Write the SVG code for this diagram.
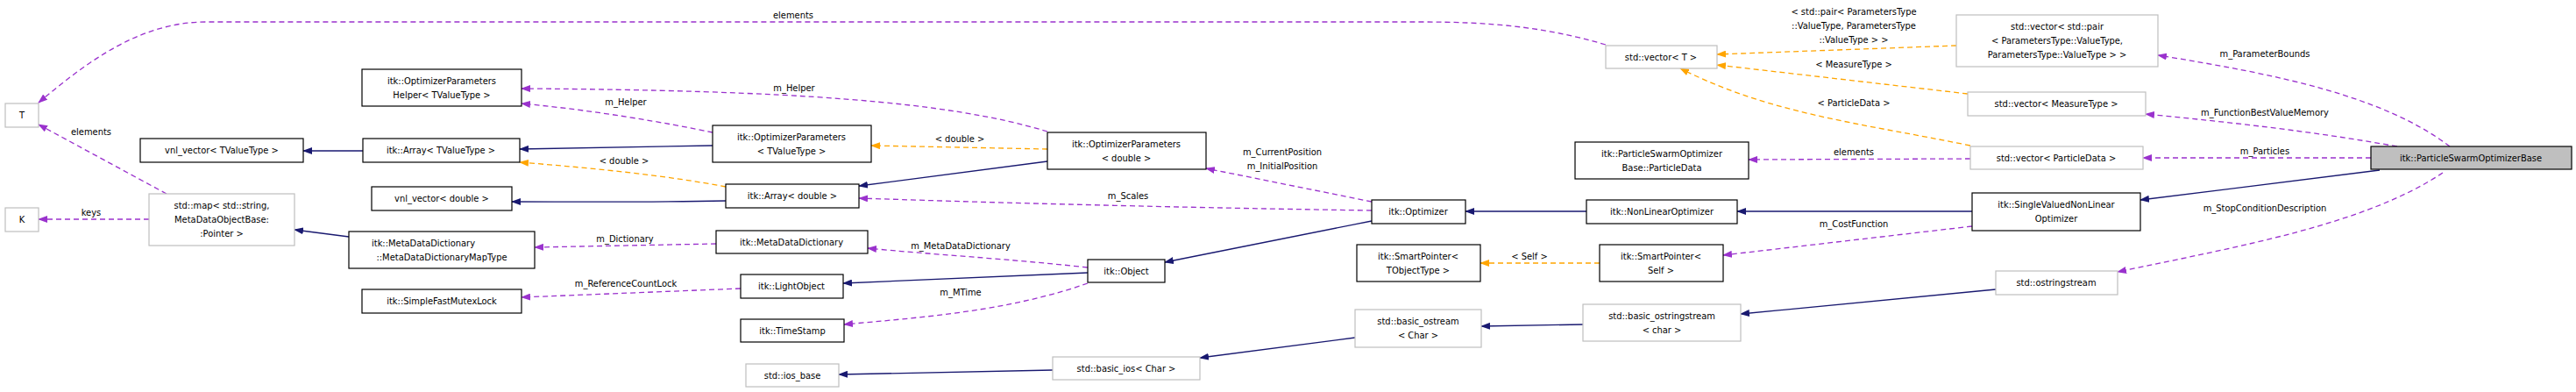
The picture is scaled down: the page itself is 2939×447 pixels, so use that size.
<svg xmlns="http://www.w3.org/2000/svg" width="2939" height="447" viewBox="0 0 2939 447">
<style>
text{font-family:"DejaVu Sans Condensed","DejaVu Sans",sans-serif;font-size:11px;fill:#000;text-anchor:middle}
.b{fill:#fff;stroke:#000;stroke-width:1.2}
.g{fill:#fff;stroke:#bfbfbf;stroke-width:1.2}
.m{fill:#bfbfbf;stroke:#000;stroke-width:1.2}
.inh{fill:none;stroke:#191970;stroke-width:1.3;marker-end:url(#an)}
.tpl{fill:none;stroke:#ffa500;stroke-width:1.3;stroke-dasharray:6,4;marker-end:url(#ao)}
.use{fill:none;stroke:#9a32cd;stroke-width:1.3;stroke-dasharray:6,4;marker-end:url(#ap)}
</style>
<defs>
<marker id="an" markerWidth="11" markerHeight="8" refX="10" refY="4" orient="auto" markerUnits="userSpaceOnUse"><path d="M0,0L11,4L0,8z" fill="#191970"/></marker>
<marker id="ao" markerWidth="11" markerHeight="8" refX="10" refY="4" orient="auto" markerUnits="userSpaceOnUse"><path d="M0,0L11,4L0,8z" fill="#ffa500"/></marker>
<marker id="ap" markerWidth="11" markerHeight="8" refX="10" refY="4" orient="auto" markerUnits="userSpaceOnUse"><path d="M0,0L11,4L0,8z" fill="#9a32cd"/></marker>
</defs>
<rect width="2939" height="447" fill="#fff"/>
<g id="connectors">
<path class="inh" d="M414,172L346,172"/>
<path class="inh" d="M813,166C720,167 650,169 593,170"/>
<path class="inh" d="M828,229C720,231 650,230 584,230"/>
<path class="inh" d="M1195,184L980,212"/>
<path class="inh" d="M398,270L336,262"/>
<path class="inh" d="M1241,311L962,323"/>
<path class="inh" d="M1565,252L1329,299"/>
<path class="inh" d="M1810,241L1672,241"/>
<path class="inh" d="M2250,241L1982,241"/>
<path class="inh" d="M2715,194L2442,228"/>
<path class="inh" d="M1201,422L957,427"/>
<path class="inh" d="M1546,385L1369,408"/>
<path class="inh" d="M1806,370L1690,372"/>
<path class="inh" d="M2277,330L1986,358"/>
<path class="tpl" d="M1195,170L994,166"/>
<path class="tpl" d="M828,213C760,200 680,192 593,185"/>
<path class="tpl" d="M1825,300L1689,300"/>
<path class="tpl" d="M2232,52L1959,62"/>
<path class="tpl" d="M2245,107L1959,74"/>
<path class="tpl" d="M2248,166C2120,140 2020,130 1917,78"/>
<path class="use" d="M190,221L44,142"/>
<path class="use" d="M170,250L44,250"/>
<path class="use" d="M1832,51C1760,30 1700,25 1620,25L235,25C160,25 100,70 44,117"/>
<path class="use" d="M813,151C760,140 680,126 595,118"/>
<path class="use" d="M1195,150C1080,115 900,103 595,101"/>
<path class="use" d="M1565,230L1376,192"/>
<path class="use" d="M1565,240C1300,236 1100,230 980,226"/>
<path class="use" d="M1241,305C1150,295 1060,290 990,283"/>
<path class="use" d="M817,278L610,282"/>
<path class="use" d="M845,329L595,339"/>
<path class="use" d="M1241,323C1150,355 1050,362 963,370"/>
<path class="use" d="M2250,258L1966,291"/>
<path class="use" d="M2248,181L1995,182"/>
<path class="use" d="M2795,167C2720,110 2600,85 2462,63"/>
<path class="use" d="M2735,167C2640,150 2550,140 2448,130"/>
<path class="use" d="M2705,180L2445,180"/>
<path class="use" d="M2787,197C2700,255 2560,280 2416,310"/>
<text x="104" y="154">elements</text>
<text x="104" y="246">keys</text>
<text x="905" y="21">elements</text>
<text x="906" y="104">m_Helper</text>
<text x="714" y="120">m_Helper</text>
<text x="1095" y="162">&lt; double &gt;</text>
<text x="712" y="187">&lt; double &gt;</text>
<text x="1287" y="227">m_Scales</text>
<text x="1096" y="284">m_MetaDataDictionary</text>
<text x="713" y="276">m_Dictionary</text>
<text x="714" y="327">m_ReferenceCountLock</text>
<text x="1096" y="337">m_MTime</text>
<text x="1463" y="177">m_CurrentPosition</text>
<text x="1463" y="193">m_InitialPosition</text>
<text x="1745" y="296">&lt; Self &gt;</text>
<text x="2115" y="259">m_CostFunction</text>
<text x="2115" y="177">elements</text>
<text x="2115" y="17">&lt; std::pair&lt; ParametersType</text>
<text x="2115" y="33">::ValueType, ParametersType</text>
<text x="2115" y="49">::ValueType &gt; &gt;</text>
<text x="2115" y="77">&lt; MeasureType &gt;</text>
<text x="2115" y="121">&lt; ParticleData &gt;</text>
<text x="2584" y="65">m_ParameterBounds</text>
<text x="2584" y="132">m_FunctionBestValueMemory</text>
<text x="2584" y="176">m_Particles</text>
<text x="2584" y="241">m_StopConditionDescription</text>
</g>
<g id="T"><rect class="g" x="6" y="118" width="38" height="27"/><text x="25" y="135">T</text></g>
<g id="K"><rect class="g" x="6" y="237" width="38" height="27"/><text x="25" y="254">K</text></g>
<g id="stdmap"><rect class="g" x="170" y="221" width="166" height="59"/><text x="253" y="238">std::map&lt; std::string,</text><text x="253" y="254">MetaDataObjectBase:</text><text x="253" y="270">:Pointer &gt;</text></g>
<g id="vnlT"><rect class="b" x="160" y="158" width="186" height="27"/><text x="253" y="175">vnl_vector&lt; TValueType &gt;</text></g>
<g id="helper"><rect class="b" x="413" y="79" width="182" height="42"/><text x="504" y="96">itk::OptimizerParameters</text><text x="504" y="112">Helper&lt; TValueType &gt;</text></g>
<g id="arrayT"><rect class="b" x="414" y="158" width="179" height="27"/><text x="503" y="175">itk::Array&lt; TValueType &gt;</text></g>
<g id="vnlD"><rect class="b" x="424" y="213" width="160" height="27"/><text x="504" y="230">vnl_vector&lt; double &gt;</text></g>
<g id="maptype"><rect class="b" x="398" y="264" width="212" height="42"/><text x="483" y="281">itk::MetaDataDictionary</text><text x="504" y="297">::MetaDataDictionaryMapType</text></g>
<g id="mutex"><rect class="b" x="413" y="330" width="182" height="27"/><text x="504" y="347">itk::SimpleFastMutexLock</text></g>
<g id="optT"><rect class="b" x="813" y="143" width="181" height="42"/><text x="903" y="160">itk::OptimizerParameters</text><text x="903" y="176">&lt; TValueType &gt;</text></g>
<g id="arrayD"><rect class="b" x="828" y="210" width="152" height="27"/><text x="904" y="227">itk::Array&lt; double &gt;</text></g>
<g id="mdd"><rect class="b" x="817" y="263" width="173" height="26"/><text x="903" y="280">itk::MetaDataDictionary</text></g>
<g id="light"><rect class="b" x="845" y="313" width="117" height="27"/><text x="903" y="330">itk::LightObject</text></g>
<g id="time"><rect class="b" x="845" y="364" width="118" height="26"/><text x="904" y="381">itk::TimeStamp</text></g>
<g id="iosbase"><rect class="g" x="851" y="415" width="106" height="26"/><text x="904" y="432">std::ios_base</text></g>
<g id="optD"><rect class="b" x="1195" y="151" width="181" height="42"/><text x="1285" y="168">itk::OptimizerParameters</text><text x="1285" y="184">&lt; double &gt;</text></g>
<g id="object"><rect class="b" x="1241" y="296" width="88" height="26"/><text x="1285" y="313">itk::Object</text></g>
<g id="basicios"><rect class="g" x="1201" y="407" width="168" height="26"/><text x="1285" y="424">std::basic_ios&lt; Char &gt;</text></g>
<g id="optimizer"><rect class="b" x="1565" y="228" width="107" height="27"/><text x="1618" y="245">itk::Optimizer</text></g>
<g id="spT"><rect class="b" x="1548" y="279" width="141" height="42"/><text x="1618" y="296">itk::SmartPointer&lt;</text><text x="1618" y="312">TObjectType &gt;</text></g>
<g id="ostream"><rect class="g" x="1546" y="353" width="144" height="43"/><text x="1618" y="370">std::basic_ostream</text><text x="1618" y="386">&lt; Char &gt;</text></g>
<g id="vecT"><rect class="g" x="1832" y="52" width="127" height="26"/><text x="1895" y="69">std::vector&lt; T &gt;</text></g>
<g id="pdata"><rect class="b" x="1797" y="162" width="198" height="42"/><text x="1896" y="179">itk::ParticleSwarmOptimizer</text><text x="1896" y="195">Base::ParticleData</text></g>
<g id="nlo"><rect class="b" x="1810" y="228" width="172" height="27"/><text x="1896" y="245">itk::NonLinearOptimizer</text></g>
<g id="spS"><rect class="b" x="1825" y="279" width="141" height="42"/><text x="1895" y="296">itk::SmartPointer&lt;</text><text x="1895" y="312">Self &gt;</text></g>
<g id="ostrs"><rect class="g" x="1806" y="347" width="180" height="42"/><text x="1896" y="364">std::basic_ostringstream</text><text x="1896" y="380">&lt; char &gt;</text></g>
<g id="vecPair"><rect class="g" x="2232" y="17" width="230" height="59"/><text x="2347" y="34">std::vector&lt; std::pair</text><text x="2347" y="50">&lt; ParametersType::ValueType,</text><text x="2347" y="66">ParametersType::ValueType &gt; &gt;</text></g>
<g id="vecM"><rect class="g" x="2245" y="105" width="203" height="27"/><text x="2346" y="122">std::vector&lt; MeasureType &gt;</text></g>
<g id="vecP"><rect class="g" x="2248" y="167" width="197" height="26"/><text x="2346" y="184">std::vector&lt; ParticleData &gt;</text></g>
<g id="svnlo"><rect class="b" x="2250" y="220" width="192" height="43"/><text x="2346" y="237">itk::SingleValuedNonLinear</text><text x="2346" y="253">Optimizer</text></g>
<g id="oss"><rect class="g" x="2277" y="309" width="139" height="27"/><text x="2346" y="326">std::ostringstream</text></g>
<g id="pso"><rect class="m" x="2705" y="167" width="229" height="26"/><text x="2819" y="184">itk::ParticleSwarmOptimizerBase</text></g>
</svg>
